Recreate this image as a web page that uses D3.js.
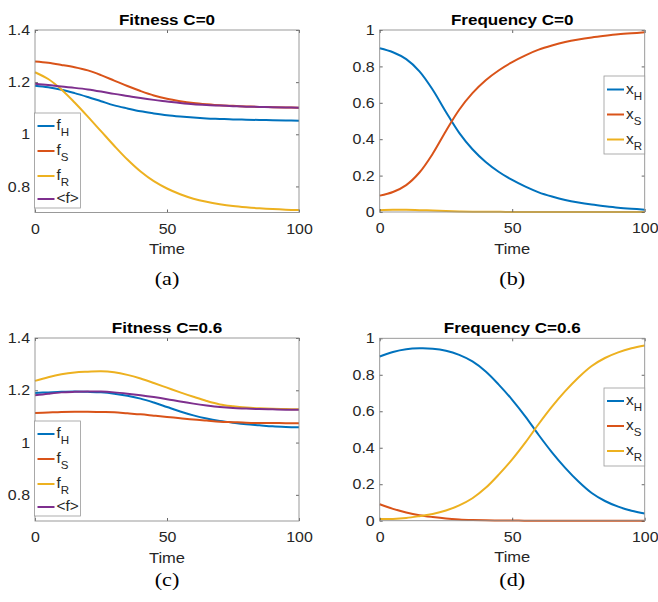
<!DOCTYPE html>
<html>
<head>
<meta charset="utf-8">
<script src="https://cdn.jsdelivr.net/npm/d3@7"></script>
<style>
  body { margin: 0; background: #fff; }
  svg { display: block; }
</style>
</head>
<body>
<svg id="fig" width="658" height="602"></svg>
<script>
// Sample times shared by every series
const time = [0, 5, 10, 15, 20, 25, 30, 35, 40, 45, 50, 55, 60, 65, 70, 75, 80, 85, 90, 95, 100];

// Fitness, C = 0
const fitC0_H = [1.186, 1.180, 1.171, 1.158, 1.143, 1.127, 1.111, 1.099, 1.088, 1.080, 1.073, 1.068, 1.064, 1.061, 1.059, 1.057, 1.056, 1.055, 1.054, 1.053, 1.052];
const fitC0_S = [1.279, 1.274, 1.266, 1.257, 1.245, 1.227, 1.206, 1.185, 1.166, 1.149, 1.136, 1.127, 1.120, 1.115, 1.111, 1.109, 1.107, 1.105, 1.104, 1.103, 1.102];
const fitC0_R = [1.238, 1.212, 1.172, 1.122, 1.068, 1.012, 0.956, 0.903, 0.857, 0.820, 0.792, 0.770, 0.753, 0.741, 0.732, 0.725, 0.720, 0.716, 0.713, 0.711, 0.710];
const fitC0_M = [1.194, 1.189, 1.183, 1.178, 1.172, 1.164, 1.155, 1.147, 1.139, 1.132, 1.126, 1.120, 1.115, 1.112, 1.110, 1.108, 1.106, 1.105, 1.104, 1.103, 1.102];

// Frequency, C = 0
const freqC0_H = [0.900, 0.878, 0.840, 0.773, 0.672, 0.550, 0.435, 0.345, 0.275, 0.220, 0.176, 0.139, 0.108, 0.085, 0.066, 0.052, 0.041, 0.032, 0.024, 0.018, 0.013];
const freqC0_S = [0.090, 0.110, 0.148, 0.217, 0.320, 0.445, 0.562, 0.653, 0.724, 0.779, 0.824, 0.861, 0.892, 0.915, 0.934, 0.948, 0.959, 0.968, 0.976, 0.982, 0.987];
const freqC0_R = [0.010, 0.012, 0.012, 0.010, 0.008, 0.005, 0.003, 0.002, 0.001, 0.001, 0.000, 0.000, 0.000, 0.000, 0.000, 0.000, 0.000, 0.000, 0.000, 0.000, 0.000];

// Fitness, C = 0.6
const fitC6_H = [1.190, 1.192, 1.194, 1.195, 1.194, 1.192, 1.187, 1.179, 1.168, 1.153, 1.136, 1.119, 1.104, 1.092, 1.083, 1.076, 1.070, 1.066, 1.062, 1.060, 1.059];
const fitC6_S = [1.113, 1.115, 1.117, 1.118, 1.118, 1.117, 1.116, 1.112, 1.108, 1.103, 1.098, 1.093, 1.088, 1.084, 1.080, 1.078, 1.076, 1.075, 1.075, 1.074, 1.074];
const fitC6_R = [1.236, 1.250, 1.261, 1.268, 1.271, 1.273, 1.269, 1.259, 1.245, 1.228, 1.210, 1.192, 1.175, 1.159, 1.146, 1.139, 1.134, 1.131, 1.129, 1.128, 1.127];
const fitC6_M = [1.181, 1.187, 1.192, 1.194, 1.195, 1.195, 1.192, 1.187, 1.181, 1.174, 1.166, 1.157, 1.149, 1.142, 1.136, 1.132, 1.130, 1.128, 1.127, 1.126, 1.126];

// Frequency, C = 0.6
const freqC6_H = [0.900, 0.925, 0.940, 0.945, 0.943, 0.932, 0.909, 0.873, 0.818, 0.745, 0.663, 0.571, 0.470, 0.375, 0.290, 0.215, 0.152, 0.108, 0.077, 0.055, 0.040];
const freqC6_S = [0.090, 0.065, 0.045, 0.030, 0.020, 0.012, 0.007, 0.004, 0.002, 0.001, 0.001, 0.000, 0.000, 0.000, 0.000, 0.000, 0.000, 0.000, 0.000, 0.000, 0.000];
const freqC6_R = [0.010, 0.010, 0.015, 0.025, 0.037, 0.056, 0.084, 0.123, 0.180, 0.254, 0.336, 0.429, 0.530, 0.625, 0.710, 0.785, 0.848, 0.892, 0.923, 0.945, 0.960];

// Axis ticks and labels
const xTicks = [0, 50, 100];
const fitYTicks = [0.8, 1, 1.2, 1.4];
const freqYTicks = [0, 0.2, 0.4, 0.6, 0.8, 1];
const fitLegend = [["f", "H"], ["f", "S"], ["f", "R"], ["<f>", ""]];
const freqLegend = [["x", "H"], ["x", "S"], ["x", "R"]];
const titles = ["Fitness C=0", "Frequency C=0", "Fitness C=0.6", "Frequency C=0.6"];
const captions = ["(a)", "(b)", "(c)", "(d)"];
const colors = ["#0072BD", "#D95319", "#EDB120", "#7E2F8E"];

const SANS = "'Liberation Sans', Arial, Helvetica, sans-serif";
const SERIF = "'Liberation Serif', 'Times New Roman', serif";
const SX = 1.1;          // horizontal stretch applied to the figure text
const INK = "#262626";

const svg = d3.select("#fig");

const panels = [
  { left: 35, right: 299, top: 30, bottom: 212.5, yDomain: [0.7, 1.4], yTicks: fitYTicks,
    series: [fitC0_H, fitC0_S, fitC0_R, fitC0_M], legend: fitLegend,
    leg: { x: 34.5, y: 113, w: 46, h: 95, rows: [13, 38, 63, 86] }, capY: 285 },
  { left: 379.7, right: 644.7, top: 30, bottom: 212, yDomain: [0, 1], yTicks: freqYTicks,
    series: [freqC0_H, freqC0_S, freqC0_R], legend: freqLegend,
    leg: { x: 604, y: 76, w: 40.7, h: 78, rows: [13.5, 38.5, 63.5] }, capY: 285 },
  { left: 35, right: 299, top: 338, bottom: 521, yDomain: [0.7, 1.4], yTicks: fitYTicks,
    series: [fitC6_H, fitC6_S, fitC6_R, fitC6_M], legend: fitLegend,
    leg: { x: 34.5, y: 421, w: 46, h: 95, rows: [13, 38, 63, 86] }, capY: 585.5 },
  { left: 379.7, right: 644.7, top: 338.3, bottom: 520.7, yDomain: [0, 1], yTicks: freqYTicks,
    series: [freqC6_H, freqC6_S, freqC6_R], legend: freqLegend,
    leg: { x: 604, y: 388, w: 40.7, h: 78, rows: [13, 38, 63] }, capY: 585.5 }
];

function stretchText(sel) {
  sel.each(function () {
    const t = d3.select(this);
    t.attr("transform", `scale(${SX},1)`);
  });
}

function label(g, x, y, str, opts) {
  return g.append("text")
    .attr("transform", `translate(${x},${y}) scale(${opts.sx || SX},1)`)
    .attr("text-anchor", opts.anchor || "middle")
    .attr("font-family", opts.family || SANS)
    .attr("font-size", opts.size)
    .attr("font-weight", opts.weight || "normal")
    .attr("fill", opts.fill || INK)
    .text(str);
}

panels.forEach((p, k) => {
  const x = d3.scaleLinear().domain([0, 100]).range([p.left, p.right]);
  const y = d3.scaleLinear().domain(p.yDomain).range([p.bottom, p.top]);
  const g = svg.append("g");

  // data curves
  const line = d3.line()
    .x((d, i) => x(time[i]))
    .y(d => y(d))
    .curve(d3.curveCatmullRom.alpha(0.5));
  p.series.forEach((vals, i) => {
    g.append("path")
      .attr("d", line(vals))
      .attr("fill", "none")
      .attr("stroke", colors[i])
      .attr("stroke-width", 2)
      .attr("stroke-linejoin", "round");
  });

  // axes: labelled bottom/left, mirrored inner ticks on top/right
  const fmt = d3.format("~g");
  const axB = g.append("g").attr("transform", `translate(0,${p.bottom})`)
    .call(d3.axisBottom(x).tickValues(xTicks).tickSize(-3).tickSizeOuter(0).tickPadding(11).tickFormat(fmt));
  const axL = g.append("g").attr("transform", `translate(${p.left},0)`)
    .call(d3.axisLeft(y).tickValues(p.yTicks).tickSize(-3).tickSizeOuter(0).tickPadding(5).tickFormat(fmt));
  const axT = g.append("g").attr("transform", `translate(0,${p.top})`)
    .call(d3.axisTop(x).tickValues(xTicks).tickSize(-3).tickSizeOuter(0).tickFormat(""));
  const axR = g.append("g").attr("transform", `translate(${p.right},0)`)
    .call(d3.axisRight(y).tickValues(p.yTicks).tickSize(-3).tickSizeOuter(0).tickFormat(""));
  [axB, axL, axT, axR].forEach(a => {
    a.select(".domain").remove();
    a.selectAll(".tick line").attr("stroke", INK).attr("stroke-width", 0.7);
    a.selectAll("text")
      .attr("font-family", SANS).attr("font-size", 14.5).attr("fill", INK);
  });
  axB.selectAll("text").call(stretchText);
  axL.selectAll("text").each(function () {
    const t = d3.select(this);
    t.attr("transform", `translate(-5,0) scale(${SX},1) translate(5,0)`);
  });

  g.append("rect")
    .attr("x", p.left).attr("y", p.top)
    .attr("width", p.right - p.left).attr("height", p.bottom - p.top)
    .attr("fill", "none").attr("stroke", "#8f8f8f").attr("stroke-width", 0.9);

  // title, axis label, caption
  const cx = (p.left + p.right) / 2;
  label(g, cx, p.top - 5.5, titles[k], { size: 15.5, weight: "bold", fill: "#000" });
  label(g, cx, p.bottom + 41.5, "Time", { size: 15 });
  label(g, cx, p.capY, captions[k], { size: 18.5, family: SERIF, sx: 1.2, fill: "#000" });

  // legend
  const L = p.leg;
  const lg = g.append("g");
  lg.append("rect").attr("x", L.x).attr("y", L.y).attr("width", L.w).attr("height", L.h)
    .attr("fill", "#fff").attr("stroke", "#9a9a9a").attr("stroke-width", 0.8);
  p.legend.forEach((entry, i) => {
    const ly = L.y + L.rows[i];
    const x0 = L.x + 3;
    const x1 = L.x + 20;
    lg.append("line").attr("x1", x0).attr("x2", x1).attr("y1", ly).attr("y2", ly)
      .attr("stroke", colors[i]).attr("stroke-width", 2);
    const t = lg.append("text")
      .attr("transform", `translate(${x1 + 2},${ly + 4}) scale(${SX},1)`)
      .attr("font-family", SANS).attr("font-size", 14).attr("fill", INK);
    t.append("tspan").text(entry[0]);
    if (entry[1]) {
      t.append("tspan").attr("font-size", 10.5).attr("dy", 6).text(entry[1]);
    }
  });
});
</script>
</body>
</html>
